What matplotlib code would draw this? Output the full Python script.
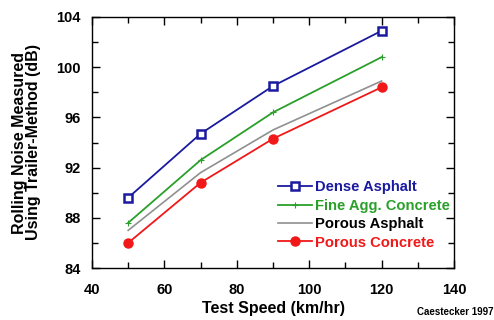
import matplotlib.pyplot as plt
from matplotlib.ticker import MultipleLocator

plt.rcParams['font.family'] = ['Liberation Sans', 'DejaVu Sans']
plt.rcParams['font.weight'] = 'bold'
plt.rcParams['axes.labelweight'] = 'bold'

speed = [50, 70, 90, 120]
dense_asphalt = [89.6, 94.7, 98.5, 102.9]
fine_agg_concrete = [87.6, 92.6, 96.4, 100.8]
porous_asphalt = [87.0, 91.6, 95.0, 98.9]
porous_concrete = [86.0, 90.8, 94.3, 98.4]

fig = plt.figure(figsize=(4.94, 3.2), dpi=100)
ax = fig.add_axes([92 / 494, 1 - 268 / 320, 362 / 494, 251 / 320])

ax.plot(speed, dense_asphalt, color='#1a1aa0', lw=1.3, marker='s', ms=5.5,
        mfc='white', mec='#1a1aa0', mew=1.8, label='Dense Asphalt')
ax.plot(speed, fine_agg_concrete, color='#2aa02a', lw=1.3, marker='+', ms=5,
        mew=0.8, label='Fine Agg. Concrete')
ax.plot(speed, porous_asphalt, color='#909090', lw=1.2, label='Porous Asphalt')
ax.plot(speed, porous_concrete, color='#f01818', lw=1.3, marker='o', ms=6.5,
        label='Porous Concrete')

ax.set_xlim(40, 140)
ax.set_ylim(84, 104)
ax.xaxis.set_major_locator(MultipleLocator(20))
ax.xaxis.set_minor_locator(MultipleLocator(10))
ax.yaxis.set_major_locator(MultipleLocator(4))
ax.yaxis.set_minor_locator(MultipleLocator(2))
ax.tick_params(which='both', direction='in', top=True, right=True, labelsize=10.5)
ax.tick_params(which='major', length=6, width=1)
ax.tick_params(which='minor', length=4, width=1)
ax.tick_params(axis='x', pad=11)
ax.tick_params(axis='y', pad=8)
for lbl in ax.get_xticklabels() + ax.get_yticklabels():
    lbl.set_fontweight('bold')
for s in ax.spines.values():
    s.set_linewidth(1)

ax.set_xlabel('Test Speed (km/hr)', fontsize=11.5, labelpad=3)
ax.set_ylabel('Rolling Noise Measured\nUsing Trailer-Method (dB)', fontsize=11.5,
              labelpad=11, linespacing=0.95)

leg = ax.legend(loc='lower right', bbox_to_anchor=(1.005, 0.05), frameon=False,
                fontsize=10.6, handlelength=2.3, handletextpad=0.2,
                labelspacing=0.3, borderaxespad=0)
for txt, line in zip(leg.get_texts(), leg.get_lines()):
    c = line.get_color()
    txt.set_color('black' if c == '#909090' else c)

fig.text(0.998, 0.01, 'Caestecker 1997', ha='right', va='bottom', fontsize=7)

fig.savefig('out.png', dpi=100)
